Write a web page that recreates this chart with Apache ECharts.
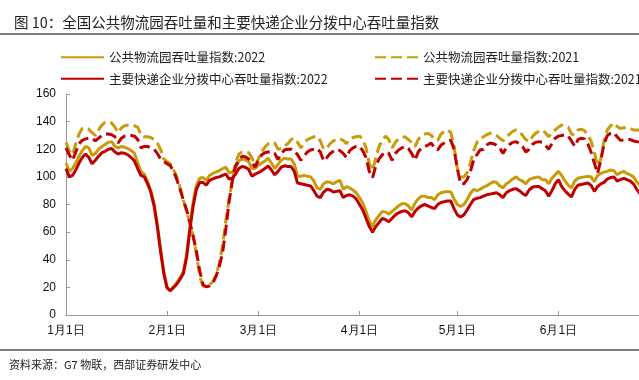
<!DOCTYPE html>
<html>
<head>
<meta charset="utf-8">
<script src="https://cdn.jsdelivr.net/npm/echarts@6/dist/echarts.min.js"></script>
<style>
html, body { margin: 0; padding: 0; overflow: hidden; background: #fff; }
#main { width: 680px; height: 380px; }
</style>
</head>
<body>
<div id="main"></div>
<script>
// x axis: day index from 1月1日, ticks only at month starts
var monthStarts = [0, 31, 59, 90, 120, 151];
var monthLabels = ['1月1日', '2月1日', '3月1日', '4月1日', '5月1日', '6月1日'];
var dayCount = 181;

var seriesNames = [
  '公共物流园吞吐量指数:2022',
  '公共物流园吞吐量指数:2021',
  '主要快递企业分拨中心吞吐量指数:2022',
  '主要快递企业分拨中心吞吐量指数:2021'
];

// daily index values
var park2022 = [
  110, 104, 106, 110, 115, 119, 122, 121, 115.5, 117,
  120, 122, 123.5, 125, 125.5, 122, 121, 122, 121.5, 120.5,
  119, 117, 110, 104, 102, 97, 90, 81, 66, 48,
  31, 20, 18, 20.5, 23.5, 27, 31.5, 44, 64, 82,
  94, 99, 99.5, 97.5, 101, 102.5, 103.5, 104.5, 106, 107,
  103, 103.5, 107, 111.5, 113, 112.5, 111, 106, 106, 108.5,
  110, 111.5, 113.5, 110, 106, 109, 112, 113.5, 113, 113,
  109.5, 100.5, 100.5, 101, 100.5, 100, 97, 92, 91, 95,
  96.5, 96, 95, 96.5, 97.5, 91, 93, 92, 90.5, 88.5,
  85, 81, 75, 68, 64, 69, 72, 75, 74.5, 73,
  75, 77, 79, 80.5, 80.5, 79, 76, 81, 84, 86,
  86, 85, 85, 83.5, 87, 88.5, 89, 89.5, 89, 84,
  80, 78.5, 80, 83.5, 88, 91, 90, 91, 92.5, 93.5,
  95, 96.5, 96, 93.5, 92, 95, 96.5, 98.5, 100, 98,
  97, 95, 98, 99, 99.5, 100, 98, 98, 95, 99,
  101.5, 104, 101, 97, 94, 92, 97, 99, 99.5, 100,
  100.5, 100, 96.5, 101, 102.5, 103.5, 104, 105, 104.5, 101.5,
  103, 104, 102.5, 101.5, 100, 96.5, 94
];

var park2021 = [
  125, 119, 116, 124, 131, 135, 135.5, 134.5, 132, 130,
  134, 137.5, 139.5, 140, 139, 136, 132, 135.5, 137, 137.5,
  137.5, 137, 136, 130, 129, 129, 128.5, 127, 124.5, 120,
  113, 111, 109.5, 105, 100, 92, 83, 75, 66, 57,
  44, 28, 21, 20.5, 22, 24, 29, 37, 50, 68,
  84, 97, 110, 116.5, 118, 118, 117.5, 114, 108, 113,
  118, 121.5, 124, 125, 124.5, 120, 120.5, 122.5, 124, 127,
  128, 125, 121, 124, 127, 128, 129, 129.5, 126, 120,
  121, 124, 126, 127.5, 127.5, 126.5, 124, 127.5, 128.5, 129,
  129.5, 127, 121, 110, 104.5, 114, 122, 126.5, 129.5, 127,
  121, 125, 127.5, 128.5, 129, 127, 125, 122, 127, 130,
  131, 131.5, 130, 127.5, 126.5, 131, 133, 134, 132, 122,
  106, 100, 100, 103, 110, 119, 125, 127.5, 129, 130.5,
  131.5, 131.5, 130, 128, 126, 128.5, 131, 133, 134, 133,
  130, 127, 125.5, 129, 131.5, 133, 134, 132, 129, 132,
  134, 136, 137.5, 137, 136, 131, 130.5, 134, 134.5, 133.5,
  130, 126, 118, 108, 113, 126, 134, 137, 139, 136.5,
  135, 135.5, 135.5, 135, 134, 134, 133.5
];

var express2022 = [
  106, 100, 101, 105, 110, 114, 116.5, 114, 109.5, 112,
  115, 117.5, 118.5, 120, 120.5, 118, 116.5, 117.5, 117, 116,
  114, 111.5, 106, 101, 100, 95, 89, 79, 64, 46,
  30, 19.5, 17.5, 20, 22.5, 26, 30, 42, 62, 79,
  91, 96, 96, 94, 97.5, 98.5, 99.5, 100, 101, 102,
  98.5, 99, 102, 106, 107.5, 107, 105.5, 100.5, 102, 103,
  104.5, 106, 108, 105, 101.5, 104, 107, 108, 107.5, 107.5,
  104, 95.5, 95, 94.5, 94, 93.5, 90, 86, 85, 89,
  91, 90.5, 89, 89.5, 90, 85, 86.5, 87, 86, 84,
  80, 76, 70, 64, 60, 64, 67, 70, 69, 67.5,
  70, 72.5, 74, 75, 75.5, 74, 71, 75, 77.5, 79,
  80, 79, 78, 77, 80, 81.5, 82, 82.5, 82.5, 77,
  72.5, 71, 72.5, 76, 80, 83.5, 84.5, 85, 86, 87,
  87.5, 88, 88.5, 87, 85, 88.5, 90, 91, 91.5, 90,
  88, 86.5, 90.5, 92.5, 93, 93, 91.5, 90, 86, 90,
  95, 98, 93, 90, 87.5, 85.5, 91, 94, 94.5, 95,
  95.5, 94, 89.5, 93, 95, 96, 98.5, 99.5, 100, 97,
  98, 99, 98, 97, 95, 91, 88
];

var express2021 = [
  121, 116, 112, 118, 124, 126.5, 127.5, 128, 128, 126,
  128, 130, 131, 131, 130.5, 129, 124.5, 128, 129.5, 130,
  130, 129.5, 127, 121, 122, 122, 121, 120, 117, 113,
  111, 109.5, 108, 104, 98, 91, 83, 76, 67, 57,
  46, 32, 22, 20.5, 21, 23, 28, 35, 45, 62,
  82, 97, 108, 112, 115, 114.5, 113, 110.5, 107, 112,
  116, 117.5, 118, 118.5, 117, 112.5, 117, 119.5, 120, 120,
  119, 116, 112, 115, 118, 119.5, 120, 120.5, 118, 111.5,
  114, 117, 118.5, 120, 119, 117, 114, 119, 121, 122,
  122, 119, 114, 104, 99.5, 108, 113, 116, 118, 117,
  112, 117, 119.5, 121, 122, 120.5, 117, 112, 118, 121,
  122, 123, 124.5, 121, 119.5, 123, 124.5, 126, 126.5, 120,
  106, 95, 95, 98, 104, 112, 116, 119.5, 120, 123,
  124.5, 124, 123, 121, 117, 121, 123.5, 125, 125.5, 124,
  122, 118, 120, 123.5, 125, 125.5, 125, 123, 120, 124,
  128, 129.5, 130, 130.5, 129.5, 126, 122, 127, 128, 127.5,
  124, 118, 110, 102.5, 112, 124, 130, 131.5, 132, 129,
  126.5, 126.5, 127, 127, 126, 125.5, 125
];

var gold = '#C89B0A';
var red = '#C00000';

var days = [];
for (var i = 0; i < dayCount; i++) days.push(i);

function isMonthStart(index) {
  return monthStarts.indexOf(index) >= 0;
}

function lineSeries(name, data, color, dashed) {
  return {
    name: name,
    type: 'line',
    data: data,
    symbol: 'none',
    smooth: false,
    lineStyle: { color: color, width: 3, type: dashed ? [11, 5] : 'solid' },
    itemStyle: { color: color }
  };
}

var legendText = { fontSize: 12.5, color: '#222', fontFamily: 'Noto Sans CJK SC' };

var myChart = echarts.init(document.getElementById('main'));
myChart.setOption({
  animation: false,
  backgroundColor: '#fff',
  title: {
    text: '图 10：全国公共物流园吞吐量和主要快递企业分拨中心吞吐量指数',
    left: 9,
    top: 10,
    textStyle: { fontSize: 14.5, fontWeight: 'normal', color: '#222', fontFamily: 'Noto Sans CJK SC' }
  },
  legend: [
    {
      orient: 'vertical',
      left: 55,
      top: 46,
      itemWidth: 43,
      itemHeight: 12,
      itemGap: 9,
      itemStyle: { opacity: 0 },
      textStyle: legendText,
      data: [seriesNames[0], seriesNames[2]]
    },
    {
      orient: 'vertical',
      left: 369,
      top: 46,
      itemWidth: 43,
      itemHeight: 12,
      itemGap: 9,
      itemStyle: { opacity: 0 },
      textStyle: legendText,
      data: [seriesNames[1], seriesNames[3]]
    }
  ],
  grid: { left: 66, right: 27, top: 94, bottom: 65 },
  xAxis: {
    type: 'category',
    data: days,
    boundaryGap: false,
    axisLine: { lineStyle: { color: '#999', width: 1 } },
    axisTick: { inside: true, length: 4, interval: isMonthStart, lineStyle: { color: '#999' } },
    axisLabel: {
      interval: isMonthStart,
      margin: 10,
      fontSize: 12,
      color: '#111',
      fontFamily: 'Liberation Sans',
      formatter: function (value) {
        return monthLabels[monthStarts.indexOf(Number(value))];
      }
    },
    splitLine: { show: false }
  },
  yAxis: {
    type: 'value',
    min: 0,
    max: 160,
    interval: 20,
    axisLine: { show: true, lineStyle: { color: '#999', width: 1 } },
    axisTick: { show: true, inside: true, length: 4, lineStyle: { color: '#999' } },
    axisLabel: { margin: 10, fontSize: 12, color: '#111', fontFamily: 'Liberation Sans' },
    splitLine: { show: false }
  },
  graphic: [
    { type: 'line', shape: { x1: 0, y1: 34, x2: 680, y2: 34 }, style: { stroke: '#555', lineWidth: 1.5 } },
    { type: 'line', shape: { x1: 0, y1: 350, x2: 680, y2: 350 }, style: { stroke: '#555', lineWidth: 1.5 } },
    {
      type: 'text', left: 9, top: 359,
      style: { text: '资料来源：G7 物联，西部证券研发中心', fontSize: 11, fill: '#222', fontFamily: 'Noto Sans CJK SC' }
    }
  ],
  series: [
    lineSeries(seriesNames[0], park2022, gold, false),
    lineSeries(seriesNames[1], park2021, gold, true),
    lineSeries(seriesNames[2], express2022, red, false),
    lineSeries(seriesNames[3], express2021, red, true)
  ]
});
</script>
</body>
</html>
